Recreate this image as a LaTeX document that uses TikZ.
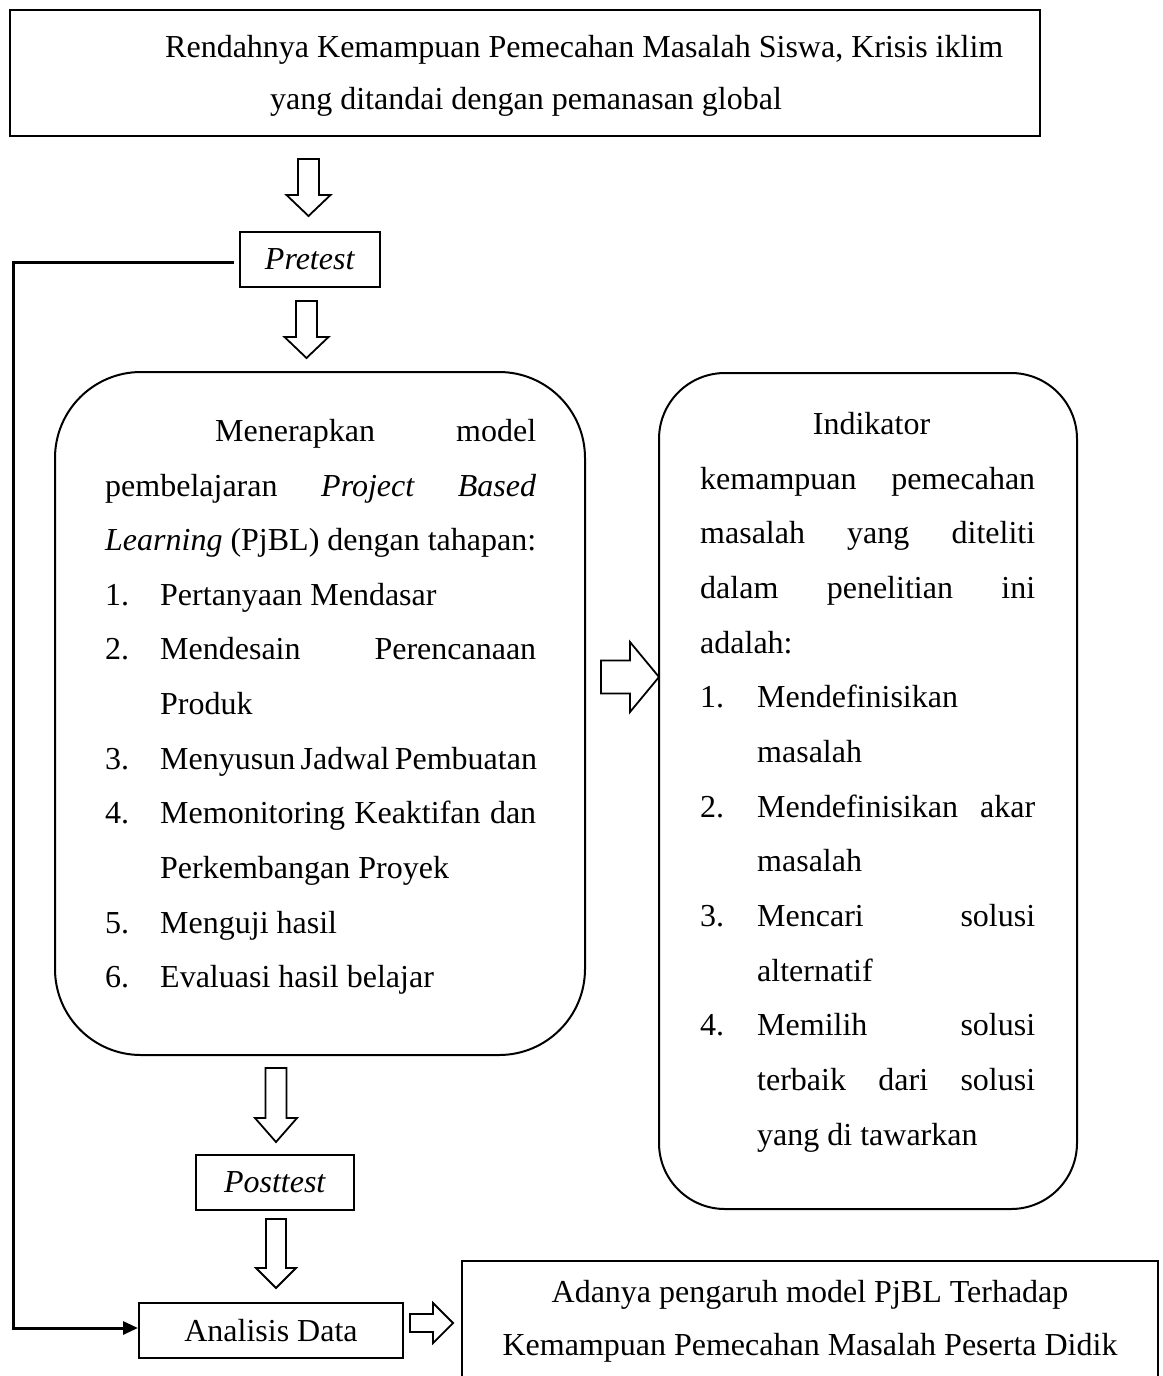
\documentclass[tikz,border=0pt]{standalone}
\usepackage{fontspec}
\setmainfont{Liberation Serif}
\usetikzlibrary{arrows.meta}
\newcommand\dnarrow[6]{% cx, top, shaft bottom, tip, shaft half, head half
  \draw[blockarrow] ({#1-#5},#2) -- ({#1+#5},#2) -- ({#1+#5},#3) -- ({#1+#6},#3) -- (#1,#4) -- ({#1-#6},#3) -- ({#1-#5},#3) -- cycle;}
\newcommand\rtarrow[6]{% cy, left, shaft right, tip, shaft half, head half
  \draw[blockarrow] (#2,{#1-#5}) -- (#3,{#1-#5}) -- (#3,{#1-#6}) -- (#4,#1) -- (#3,{#1+#6}) -- (#3,{#1+#5}) -- (#2,{#1+#5}) -- cycle;}
\newcommand\jl[2]{\makebox[#1pt][s]{#2}}
\begin{document}
\begin{tikzpicture}[x=1pt,y=-1pt,
  every node/.style={font=\fontsize{32}{40}\selectfont},
  boxline/.style={draw, line width=2pt},
  sqbox/.style={boxline, inner sep=0pt},
  txt/.style={anchor=base west, inner sep=0pt},
  ctxt/.style={anchor=base, inner sep=0pt},
  blockarrow/.style={draw, fill=white, line width=1.8pt, line join=miter},
  conn/.style={line width=3pt}]
\useasboundingbox (0,0) rectangle (1162,1376);
\clip (0,0) rectangle (1162,1376);

% boxes
\node[sqbox, minimum width=1030pt, minimum height=126pt] (top) at (525,73) {};
\node[sqbox, minimum width=140pt, minimum height=55pt] (pre) at (310,259.5) {\textit{Pretest}};
\node[boxline, rounded corners=86pt, minimum width=530pt, minimum height=683pt, inner sep=0pt] (lbox) at (320,713.5) {};
\node[boxline, rounded corners=66pt, minimum width=418pt, minimum height=836pt, inner sep=0pt] (rbox) at (868,791) {};
\node[sqbox, minimum width=158pt, minimum height=55pt] (post) at (275,1182.5) {\textit{Posttest}};
\node[sqbox, minimum width=264pt, minimum height=55pt] (ana) at (271,1330.5) {Analisis Data};
\coordinate (resTL) at (462,1261);
\coordinate (resTR) at (1158,1261);
\draw[line width=2pt] ([yshift=-200pt]resTL) -- (resTL) -- (resTR) -- ([yshift=-200pt]resTR);

% top text
\node[txt] (t1) at (165,57) {Rendahnya Kemampuan Pemecahan Masalah Siswa, Krisis iklim};
\node[ctxt] (t2) at (526,109) {yang ditandai dengan pemanasan global};

% left box text
\node[txt] (l1) at (215,441) {\jl{321}{Menerapkan model}};
\node[txt] (l2) at (105,496) {\jl{431}{pembelajaran \textit{Project Based}}};
\node[txt] (l3) at (105,550) {\jl{431}{\textit{Learning} (PjBL) dengan tahapan:}};
\node[txt] (n1) at (105,605) {1.};
\node[txt] (l4) at (160,605) {Pertanyaan Mendasar};
\node[txt] (n2) at (105,659) {2.};
\node[txt] (l5) at (160,659) {\jl{376}{Mendesain Perencanaan}};
\node[txt] (l6) at (160,714) {Produk};
\node[txt] (n3) at (105,769) {3.};
\node[txt] (l7) at (160,769) {\jl{376}{Menyusun Jadwal Pembuatan}};
\node[txt] (n4) at (105,823) {4.};
\node[txt] (l8) at (160,823) {\jl{376}{Memonitoring Keaktifan dan}};
\node[txt] (l9) at (160,878) {Perkembangan Proyek};
\node[txt] (n5) at (105,933) {5.};
\node[txt] (l10) at (160,933) {Menguji hasil};
\node[txt] (n6) at (105,987) {6.};
\node[txt] (l11) at (160,987) {Evaluasi hasil belajar};

% right box text
\node[ctxt] (r1) at (871.5,434) {Indikator};
\node[txt] (r2) at (700,489) {\jl{335}{kemampuan pemecahan}};
\node[txt] (r3) at (700,543) {\jl{335}{masalah yang diteliti}};
\node[txt] (r4) at (700,598) {\jl{335}{dalam penelitian ini}};
\node[txt] (r5) at (700,653) {adalah:};
\node[txt] (m1) at (700,707) {1.};
\node[txt] (r6) at (757,707) {Mendefinisikan};
\node[txt] (r7) at (757,762) {masalah};
\node[txt] (m2) at (700,817) {2.};
\node[txt] (r8) at (757,817) {\jl{278}{Mendefinisikan akar}};
\node[txt] (r9) at (757,871) {masalah};
\node[txt] (m3) at (700,926) {3.};
\node[txt] (r10) at (757,926) {\jl{278}{Mencari solusi}};
\node[txt] (r11) at (757,981) {alternatif};
\node[txt] (m4) at (700,1035) {4.};
\node[txt] (r12) at (757,1035) {\jl{278}{Memilih solusi}};
\node[txt] (r13) at (757,1090) {\jl{278}{terbaik dari solusi}};
\node[txt] (r14) at (757,1145) {yang di tawarkan};

% bottom right text
\node[ctxt] (b1) at (810,1302) {Adanya pengaruh model PjBL Terhadap};
\node[ctxt] (b2) at (810,1355) {Kemampuan Pemecahan Masalah Peserta Didik};

% block arrows
\dnarrow{308.5}{159}{195}{216}{10.5}{22}
\dnarrow{306.5}{301}{337}{358}{10.5}{22}
\dnarrow{276}{1068}{1118}{1142}{10.5}{21}
\dnarrow{276}{1219}{1268}{1288}{10}{20}
\rtarrow{677}{601}{630}{659}{16.5}{35}
\rtarrow{1323}{410}{433}{453}{9}{20}

% feedback connector
\coordinate (cornerA) at (13,262);
\coordinate (cornerB) at (13,1328);
\draw[conn, line join=miter, -{Triangle[length=15pt,width=13pt]}]
  ([xshift=-5pt]pre.west |- cornerA) -- (cornerA) -- (cornerB) -- (ana.west |- cornerB);
\end{tikzpicture}
\end{document}
